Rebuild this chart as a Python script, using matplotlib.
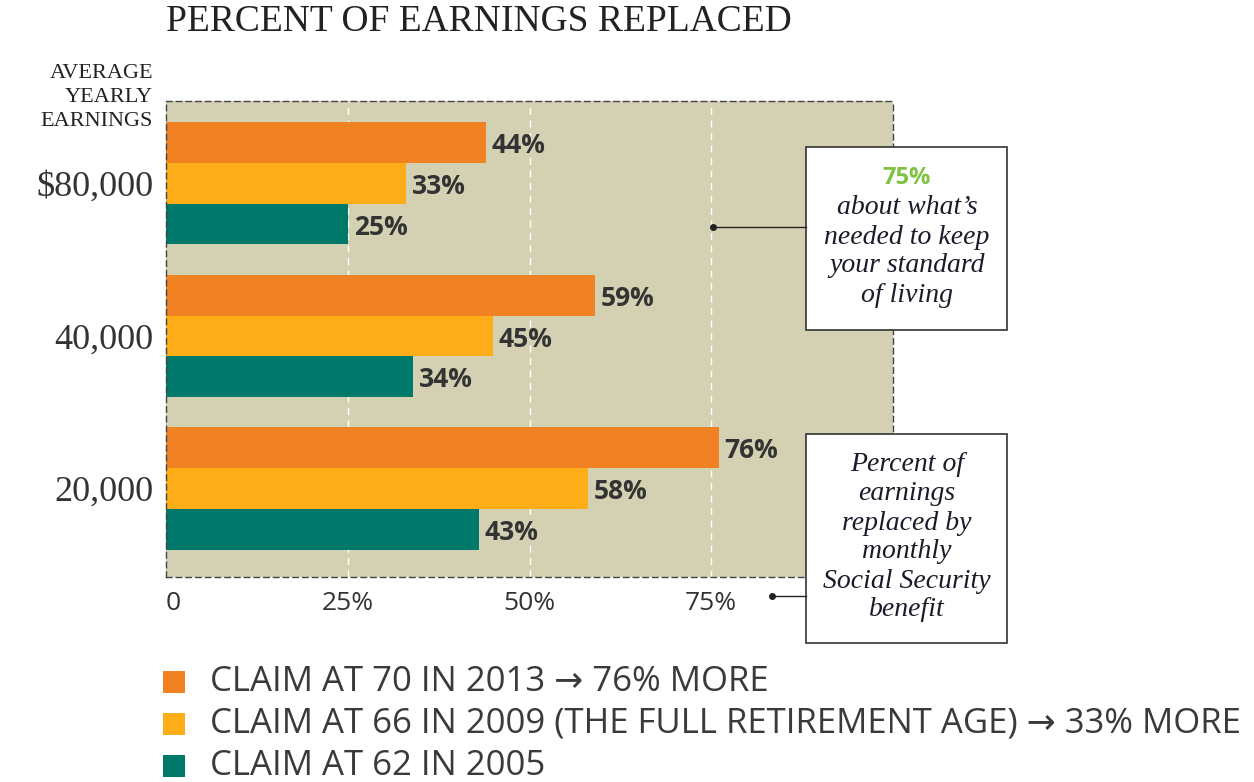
import matplotlib
matplotlib.use('Agg')
import matplotlib.pyplot as plt
import numpy as np

# data
groups = ["$80,000", "40,000", "20,000"]
claim_70 = [44, 59, 76]
claim_66 = [33, 45, 58]
claim_62 = [25, 34, 43]
series_labels = ["CLAIM AT 70 IN 2013 \u2192 76% MORE",
                 "CLAIM AT 66 IN 2009 (THE FULL RETIREMENT AGE) \u2192 33% MORE",
                 "CLAIM AT 62 IN 2005"]
x_ticks = [0, 25, 50, 75]
x_ticklabels = ["0", "25%", "50%", "75%"]

colors = ["#F18223", "#FCAD17", "#00786A"]
bg = "#D4D1B3"
dark = "#333333"
serif = "Liberation Serif"
sans = ["Open Sans", "DejaVu Sans"]

fig = plt.figure(figsize=(12.54, 7.82), dpi=100)
ax = fig.add_axes([166 / 1254, 1 - 577 / 782, 727 / 1254, 476 / 782])
ax.set_facecolor(bg)

y = np.arange(len(groups))
h = 0.267
for i, vals in enumerate([claim_70, claim_66, claim_62]):
    pos = y + (i - 1) * h
    ax.barh(pos, vals, height=h, color=colors[i], zorder=2)
    for p, v in zip(pos, vals):
        ax.text(v + 0.8, p + 0.02, f"{v}%", va='center', ha='left', fontsize=19,
                fontweight='bold', color=dark, family=sans, zorder=3)

ax.set_xlim(0, 100)
ax.set_ylim(2.58, -0.54)

# white dashed guides
for t in x_ticks[1:]:
    ax.axvline(t, color='white', ls=(0, (5, 4)), lw=1, zorder=1)

for s in ax.spines.values():
    s.set_linestyle((0, (4, 3)))
    s.set_color('#444444')
    s.set_linewidth(1)

ax.set_yticks(y)
ax.set_yticklabels(groups, family=serif, fontsize=26, color=dark)
ax.set_xticks(x_ticks)
ax.set_xticklabels(x_ticklabels, family=sans, fontsize=19, color=dark)
ax.get_xticklabels()[0].set_ha('left')
ax.tick_params(axis='both', length=0)
ax.tick_params(axis='y', pad=9)
ax.tick_params(axis='x', pad=10)

fig.text(166 / 1254, 1 - 22 / 782, "PERCENT OF EARNINGS REPLACED", family=serif,
         fontsize=27, color='#222222', va='center', ha='left')

for k, word in enumerate(["AVERAGE", "YEARLY", "EARNINGS"]):
    fig.text(153 / 1254, 1 - (74 + 24 * k) / 782, word, family=serif, fontsize=16,
             color='#222222', va='center', ha='right')

# annotation boxes
def note_box(x0, y0, x1, y1):
    r = plt.Rectangle((x0 / 1254, 1 - y1 / 782), (x1 - x0) / 1254, (y1 - y0) / 782,
                      transform=fig.transFigure, facecolor='white',
                      edgecolor='#333333', lw=1.2)
    fig.add_artist(r)

note_box(806, 147, 1007, 330)
note_box(806, 434, 1007, 643)

# leader lines
for (xd, yd) in [(713, 227), (772, 596)]:
    fig.add_artist(plt.Line2D([xd / 1254, 806 / 1254], [1 - yd / 782, 1 - yd / 782],
                              transform=fig.transFigure, color='#222222', lw=1))
    fig.add_artist(plt.Line2D([xd / 1254], [1 - yd / 782], transform=fig.transFigure,
                              marker='o', ms=4, color='#222222'))

cx = 907 / 1254
fig.text(cx, 1 - 178 / 782, "75%", family=sans, fontweight='bold', fontsize=17,
         color='#7DC242', ha='center', va='center')
for k, line in enumerate(["about what\u2019s", "needed to keep", "your standard", "of living"]):
    fig.text(cx, 1 - (208 + 29 * k) / 782, line, family=serif, style='italic',
             fontsize=20, color='#1a1a2a', ha='center', va='center')
for k, line in enumerate(["Percent of", "earnings", "replaced by", "monthly",
                          "Social Security", "benefit"]):
    fig.text(cx, 1 - (465 + 29 * k) / 782, line, family=serif, style='italic',
             fontsize=20, color='#1a1a2a', ha='center', va='center')

# legend
for k, (lab, c) in enumerate(zip(series_labels, colors)):
    yc = 1 - (682 + 42 * k) / 782
    fig.add_artist(plt.Rectangle((163 / 1254, yc - 11 / 782), 22 / 1254, 22 / 782,
                                 transform=fig.transFigure, facecolor=c, edgecolor='none'))
    fig.text(210 / 1254, yc, lab, family=sans, fontsize=25, color='#3a3a3a',
             ha='left', va='center')

fig.savefig("out.png", dpi=100)
